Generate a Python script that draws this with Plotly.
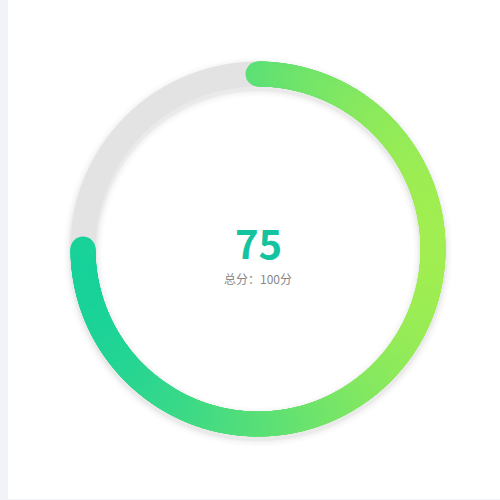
import numpy as np
import plotly.graph_objects as go

# Data
score = [75]
total = [100]
title_label = ["总分：100分"]

# Geometry / style
W = H = 500
cx, cy = 258, 251          # centre in data coords (y up)
r_mid = 175                # ring mid radius
ring_w = 25                # ring thickness in px
c_start, c_end = "#13D19D", "#A6EF4F"

fig = go.Figure()

t = np.linspace(0, 2 * np.pi, 1441)
# soft shadow under the ring
for extra, alpha in [(14, 0.012), (10, 0.016), (6, 0.022), (3, 0.03)]:
    fig.add_trace(go.Scatter(x=cx + r_mid * np.cos(t), y=cy + r_mid * np.sin(t) - 3,
                             mode="lines",
                             line=dict(color=f"rgba(0,0,0,{alpha})", width=ring_w + extra, simplify=False),
                             hoverinfo="skip", showlegend=False))
# background track (full circle)
fig.add_trace(go.Scatter(x=cx + r_mid * np.cos(t), y=cy + r_mid * np.sin(t),
                         mode="lines", line=dict(color="#E3E3E3", width=ring_w, simplify=False),
                         hoverinfo="skip", showlegend=False))

# progress arc, clockwise from 12 o'clock
frac = score[0] / total[0]
n = 900
theta = np.pi / 2 - np.linspace(0, 2 * np.pi * frac, n)
ax = cx + r_mid * np.cos(theta)
ay = cy + r_mid * np.sin(theta)
fig.add_trace(go.Scatter(
    x=ax, y=ay, mode="markers",
    marker=dict(size=ring_w, color=ax, cmin=cx - r_mid - ring_w / 2, cmax=cx + r_mid + ring_w / 2,
                colorscale=[[0, c_start], [1, c_end]], line=dict(width=0), opacity=1),
    hoverinfo="skip", showlegend=False))

# centre texts
fig.add_annotation(x=cx, y=cy + 7, text=f"<b>{score[0]}</b>", showarrow=False,
                   font=dict(family="Noto Sans CJK SC, Noto Sans, sans-serif", size=40, color="#14C39F"),
                   xanchor="center", yanchor="middle")
fig.add_annotation(x=cx, y=cy - 29, text=title_label[0], showarrow=False,
                   font=dict(family="Noto Sans CJK SC, sans-serif", size=12, color="#888888"),
                   xanchor="center", yanchor="middle")

# card background
fig.add_shape(type="rect", xref="x", yref="y", x0=8, x1=510, y0=1, y1=500,
              fillcolor="#FFFFFF", line=dict(width=0), layer="below")

fig.update_layout(
    width=W, height=H, margin=dict(l=0, r=0, t=0, b=0),
    paper_bgcolor="#F2F3F8", plot_bgcolor="rgba(0,0,0,0)",
    xaxis=dict(range=[0, W], visible=False, fixedrange=True),
    yaxis=dict(range=[0, H], visible=False, fixedrange=True),
)

fig.write_html("out.html", config={"displayModeBar": False},
               post_script="document.body.style.margin='0';document.body.style.overflow='hidden';")
